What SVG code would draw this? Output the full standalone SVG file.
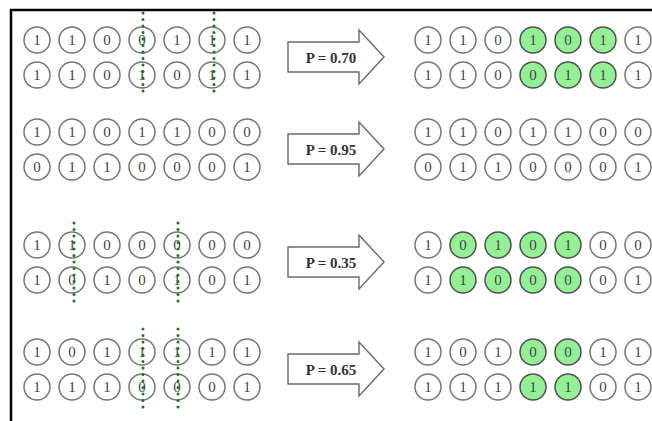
<svg xmlns="http://www.w3.org/2000/svg" width="652" height="421" viewBox="0 0 652 421">
<style>
.c{fill:#fff;stroke:#767676;stroke-width:1.5}
.g{fill:#94f094;stroke:#505050;stroke-width:1.5}
.d{font-family:"Liberation Serif",serif;font-size:15px;fill:#444;text-anchor:middle;dominant-baseline:central}
.a{fill:#fff;stroke:#6a6a6a;stroke-width:1.4;stroke-linejoin:miter}
.p{font-family:"Liberation Serif",serif;font-size:15px;font-weight:bold;fill:#333;text-anchor:middle;dominant-baseline:central}
.cut{stroke:#167a16;stroke-width:3;stroke-dasharray:0 6.5;stroke-linecap:round;fill:none}
</style>
<rect width="652" height="421" fill="#fff"/>
<path d="M11,421 V10 H652" fill="none" stroke="#000" stroke-width="2.5"/>

<!-- Group 1 -->
<g id="g1-left-top" transform="translate(0,40)">
<circle class="c" cx="37" r="13"/><text class="d" x="37">1</text>
<circle class="c" cx="72" r="13"/><text class="d" x="72">1</text>
<circle class="c" cx="107" r="13"/><text class="d" x="107">0</text>
<circle class="c" cx="142" r="13"/><text class="d" x="142">0</text>
<circle class="c" cx="177" r="13"/><text class="d" x="177">1</text>
<circle class="c" cx="212" r="13"/><text class="d" x="212">1</text>
<circle class="c" cx="247" r="13"/><text class="d" x="247">1</text>
</g>
<g id="g1-left-bottom" transform="translate(0,75)">
<circle class="c" cx="37" r="13"/><text class="d" x="37">1</text>
<circle class="c" cx="72" r="13"/><text class="d" x="72">1</text>
<circle class="c" cx="107" r="13"/><text class="d" x="107">0</text>
<circle class="c" cx="142" r="13"/><text class="d" x="142">1</text>
<circle class="c" cx="177" r="13"/><text class="d" x="177">0</text>
<circle class="c" cx="212" r="13"/><text class="d" x="212">1</text>
<circle class="c" cx="247" r="13"/><text class="d" x="247">1</text>
</g>
<g id="g1-arrow" transform="translate(0,57)">
<path class="a" d="M288,-15 H359 V-27 L384,0 L359,27 V15 H288 Z"/>
<text class="p" x="331" y="1">P = 0.70</text>
</g>
<g id="g1-right-top" transform="translate(0,40)">
<circle class="c" cx="428" r="13"/><text class="d" x="428">1</text>
<circle class="c" cx="463" r="13"/><text class="d" x="463">1</text>
<circle class="c" cx="498" r="13"/><text class="d" x="498">0</text>
<circle class="g" cx="533" r="13"/><text class="d" x="533">1</text>
<circle class="g" cx="568" r="13"/><text class="d" x="568">0</text>
<circle class="g" cx="603" r="13"/><text class="d" x="603">1</text>
<circle class="c" cx="638" r="13"/><text class="d" x="638">1</text>
</g>
<g id="g1-right-bottom" transform="translate(0,75)">
<circle class="c" cx="428" r="13"/><text class="d" x="428">1</text>
<circle class="c" cx="463" r="13"/><text class="d" x="463">1</text>
<circle class="c" cx="498" r="13"/><text class="d" x="498">0</text>
<circle class="g" cx="533" r="13"/><text class="d" x="533">0</text>
<circle class="g" cx="568" r="13"/><text class="d" x="568">1</text>
<circle class="g" cx="603" r="13"/><text class="d" x="603">1</text>
<circle class="c" cx="638" r="13"/><text class="d" x="638">1</text>
</g>

<!-- Group 2 -->
<g id="g2-left-top" transform="translate(0,132)">
<circle class="c" cx="37" r="13"/><text class="d" x="37">1</text>
<circle class="c" cx="72" r="13"/><text class="d" x="72">1</text>
<circle class="c" cx="107" r="13"/><text class="d" x="107">0</text>
<circle class="c" cx="142" r="13"/><text class="d" x="142">1</text>
<circle class="c" cx="177" r="13"/><text class="d" x="177">1</text>
<circle class="c" cx="212" r="13"/><text class="d" x="212">0</text>
<circle class="c" cx="247" r="13"/><text class="d" x="247">0</text>
</g>
<g id="g2-left-bottom" transform="translate(0,167)">
<circle class="c" cx="37" r="13"/><text class="d" x="37">0</text>
<circle class="c" cx="72" r="13"/><text class="d" x="72">1</text>
<circle class="c" cx="107" r="13"/><text class="d" x="107">1</text>
<circle class="c" cx="142" r="13"/><text class="d" x="142">0</text>
<circle class="c" cx="177" r="13"/><text class="d" x="177">0</text>
<circle class="c" cx="212" r="13"/><text class="d" x="212">0</text>
<circle class="c" cx="247" r="13"/><text class="d" x="247">1</text>
</g>
<g id="g2-arrow" transform="translate(0,149)">
<path class="a" d="M288,-15 H359 V-27 L384,0 L359,27 V15 H288 Z"/>
<text class="p" x="331" y="1">P = 0.95</text>
</g>
<g id="g2-right-top" transform="translate(0,132)">
<circle class="c" cx="428" r="13"/><text class="d" x="428">1</text>
<circle class="c" cx="463" r="13"/><text class="d" x="463">1</text>
<circle class="c" cx="498" r="13"/><text class="d" x="498">0</text>
<circle class="c" cx="533" r="13"/><text class="d" x="533">1</text>
<circle class="c" cx="568" r="13"/><text class="d" x="568">1</text>
<circle class="c" cx="603" r="13"/><text class="d" x="603">0</text>
<circle class="c" cx="638" r="13"/><text class="d" x="638">0</text>
</g>
<g id="g2-right-bottom" transform="translate(0,167)">
<circle class="c" cx="428" r="13"/><text class="d" x="428">0</text>
<circle class="c" cx="463" r="13"/><text class="d" x="463">1</text>
<circle class="c" cx="498" r="13"/><text class="d" x="498">1</text>
<circle class="c" cx="533" r="13"/><text class="d" x="533">0</text>
<circle class="c" cx="568" r="13"/><text class="d" x="568">0</text>
<circle class="c" cx="603" r="13"/><text class="d" x="603">0</text>
<circle class="c" cx="638" r="13"/><text class="d" x="638">1</text>
</g>

<!-- Group 3 -->
<g id="g3-left-top" transform="translate(0,245)">
<circle class="c" cx="37" r="13"/><text class="d" x="37">1</text>
<circle class="c" cx="72" r="13"/><text class="d" x="72">1</text>
<circle class="c" cx="107" r="13"/><text class="d" x="107">0</text>
<circle class="c" cx="142" r="13"/><text class="d" x="142">0</text>
<circle class="c" cx="177" r="13"/><text class="d" x="177">0</text>
<circle class="c" cx="212" r="13"/><text class="d" x="212">0</text>
<circle class="c" cx="247" r="13"/><text class="d" x="247">0</text>
</g>
<g id="g3-left-bottom" transform="translate(0,280)">
<circle class="c" cx="37" r="13"/><text class="d" x="37">1</text>
<circle class="c" cx="72" r="13"/><text class="d" x="72">0</text>
<circle class="c" cx="107" r="13"/><text class="d" x="107">1</text>
<circle class="c" cx="142" r="13"/><text class="d" x="142">0</text>
<circle class="c" cx="177" r="13"/><text class="d" x="177">1</text>
<circle class="c" cx="212" r="13"/><text class="d" x="212">0</text>
<circle class="c" cx="247" r="13"/><text class="d" x="247">1</text>
</g>
<g id="g3-arrow" transform="translate(0,262)">
<path class="a" d="M288,-15 H359 V-27 L384,0 L359,27 V15 H288 Z"/>
<text class="p" x="331" y="1">P = 0.35</text>
</g>
<g id="g3-right-top" transform="translate(0,245)">
<circle class="c" cx="428" r="13"/><text class="d" x="428">1</text>
<circle class="g" cx="463" r="13"/><text class="d" x="463">0</text>
<circle class="g" cx="498" r="13"/><text class="d" x="498">1</text>
<circle class="g" cx="533" r="13"/><text class="d" x="533">0</text>
<circle class="g" cx="568" r="13"/><text class="d" x="568">1</text>
<circle class="c" cx="603" r="13"/><text class="d" x="603">0</text>
<circle class="c" cx="638" r="13"/><text class="d" x="638">0</text>
</g>
<g id="g3-right-bottom" transform="translate(0,280)">
<circle class="c" cx="428" r="13"/><text class="d" x="428">1</text>
<circle class="g" cx="463" r="13"/><text class="d" x="463">1</text>
<circle class="g" cx="498" r="13"/><text class="d" x="498">0</text>
<circle class="g" cx="533" r="13"/><text class="d" x="533">0</text>
<circle class="g" cx="568" r="13"/><text class="d" x="568">0</text>
<circle class="c" cx="603" r="13"/><text class="d" x="603">0</text>
<circle class="c" cx="638" r="13"/><text class="d" x="638">1</text>
</g>

<!-- Group 4 -->
<g id="g4-left-top" transform="translate(0,352)">
<circle class="c" cx="37" r="13"/><text class="d" x="37">1</text>
<circle class="c" cx="72" r="13"/><text class="d" x="72">0</text>
<circle class="c" cx="107" r="13"/><text class="d" x="107">1</text>
<circle class="c" cx="142" r="13"/><text class="d" x="142">1</text>
<circle class="c" cx="177" r="13"/><text class="d" x="177">1</text>
<circle class="c" cx="212" r="13"/><text class="d" x="212">1</text>
<circle class="c" cx="247" r="13"/><text class="d" x="247">1</text>
</g>
<g id="g4-left-bottom" transform="translate(0,387)">
<circle class="c" cx="37" r="13"/><text class="d" x="37">1</text>
<circle class="c" cx="72" r="13"/><text class="d" x="72">1</text>
<circle class="c" cx="107" r="13"/><text class="d" x="107">1</text>
<circle class="c" cx="142" r="13"/><text class="d" x="142">0</text>
<circle class="c" cx="177" r="13"/><text class="d" x="177">0</text>
<circle class="c" cx="212" r="13"/><text class="d" x="212">0</text>
<circle class="c" cx="247" r="13"/><text class="d" x="247">1</text>
</g>
<g id="g4-arrow" transform="translate(0,369)">
<path class="a" d="M288,-15 H359 V-27 L384,0 L359,27 V15 H288 Z"/>
<text class="p" x="331" y="1">P = 0.65</text>
</g>
<g id="g4-right-top" transform="translate(0,352)">
<circle class="c" cx="428" r="13"/><text class="d" x="428">1</text>
<circle class="c" cx="463" r="13"/><text class="d" x="463">0</text>
<circle class="c" cx="498" r="13"/><text class="d" x="498">1</text>
<circle class="g" cx="533" r="13"/><text class="d" x="533">0</text>
<circle class="g" cx="568" r="13"/><text class="d" x="568">0</text>
<circle class="c" cx="603" r="13"/><text class="d" x="603">1</text>
<circle class="c" cx="638" r="13"/><text class="d" x="638">1</text>
</g>
<g id="g4-right-bottom" transform="translate(0,387)">
<circle class="c" cx="428" r="13"/><text class="d" x="428">1</text>
<circle class="c" cx="463" r="13"/><text class="d" x="463">1</text>
<circle class="c" cx="498" r="13"/><text class="d" x="498">1</text>
<circle class="g" cx="533" r="13"/><text class="d" x="533">1</text>
<circle class="g" cx="568" r="13"/><text class="d" x="568">1</text>
<circle class="c" cx="603" r="13"/><text class="d" x="603">0</text>
<circle class="c" cx="638" r="13"/><text class="d" x="638">1</text>
</g>

<g id="cuts">
<line class="cut" x1="143" y1="13" x2="143" y2="97"/>
<line class="cut" x1="214" y1="13" x2="214" y2="97"/>
<line class="cut" x1="74" y1="223" x2="74" y2="306"/>
<line class="cut" x1="178" y1="223" x2="178" y2="306"/>
<line class="cut" x1="143" y1="329" x2="143" y2="413"/>
<line class="cut" x1="178" y1="329" x2="178" y2="413"/>
</g>
</svg>
